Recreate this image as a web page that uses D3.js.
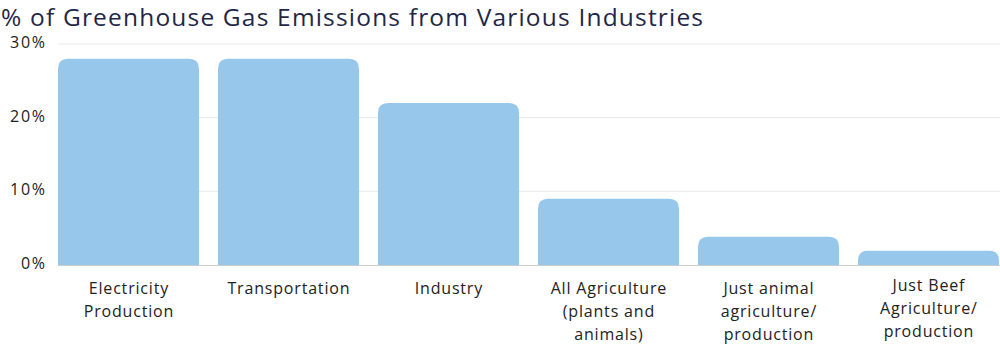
<!DOCTYPE html>
<html>
<head>
<meta charset="utf-8">
<script src="https://cdn.jsdelivr.net/npm/d3@7"></script>
<style>
  html, body { margin: 0; padding: 0; background: #fff; }
  svg { display: block; }
  text { font-family: "Open Sans", "Lato", sans-serif; }
</style>
</head>
<body>
<svg id="chart" width="1000" height="356"></svg>
<script>
const title = "% of Greenhouse Gas Emissions from Various Industries";
const categories = [
  ["Electricity", "Production"],
  ["Transportation"],
  ["Industry"],
  ["All Agriculture", "(plants and", "animals)"],
  ["Just animal", "agriculture/", "production"],
  ["Just Beef", "Agriculture/", "production"]
];
const values = [28, 28, 22, 9, 3.85, 1.95];
const yTicks = [0, 10, 20, 30];

const svg = d3.select("#chart");
const plotTop = 44, plotBottom = 265, plotLeft = 58, plotRight = 1000;

const x = d3.scaleBand()
  .domain(d3.range(categories.length))
  .range([48.5, 1008.5])
  .paddingInner(19 / 160)
  .paddingOuter(19 / 320);

const y = d3.scaleLinear().domain([0, 30]).range([plotBottom, plotTop]);

function fitSpacing(sel, target) {
  const node = sel.node();
  const n = node.getNumberOfChars();
  const w = node.getComputedTextLength();
  return (target - w) / Math.max(1, n - 1);
}

// title
const t = svg.append("text")
  .attr("x", 1).attr("y", 25.5)
  .attr("font-size", 24.5)
  .attr("fill", "#1f2748")
  .text(title);
t.attr("letter-spacing", fitSpacing(t, 702));

// gridlines
svg.append("g").selectAll("line")
  .data(yTicks.filter(d => d > 0))
  .join("line")
  .attr("x1", plotLeft).attr("x2", plotRight)
  .attr("y1", d => y(d)).attr("y2", d => y(d))
  .attr("stroke", "#e8e8e8").attr("stroke-width", 1);

// y tick labels
const yl = svg.append("g").selectAll("text")
  .data(yTicks)
  .join("text")
  .attr("x", 45).attr("y", d => y(d) - 1.5)
  .attr("dy", "0.35em")
  .attr("text-anchor", "end")
  .attr("font-size", 16)
  .attr("fill", "#222")
  .text(d => d + "%");
const yls = fitSpacing(d3.select(yl.nodes()[3]), 35);
yl.attr("letter-spacing", yls).attr("x", 45 + yls);

// bars with rounded top corners
const r = 10;
function barPath(i, v) {
  const x0 = x(i), w = x.bandwidth(), y0 = y(v), yb = y(0);
  const rr = Math.min(r, (yb - y0), w / 2);
  return `M${x0},${yb}V${y0 + rr}Q${x0},${y0} ${x0 + rr},${y0}H${x0 + w - rr}Q${x0 + w},${y0} ${x0 + w},${y0 + rr}V${yb}Z`;
}
svg.append("g").selectAll("path")
  .data(values)
  .join("path")
  .attr("d", (v, i) => barPath(i, v))
  .attr("fill", "#97c7ea");

// baseline
svg.append("line")
  .attr("x1", plotLeft).attr("x2", plotRight)
  .attr("y1", y(0) + 0.5).attr("y2", y(0) + 0.5)
  .attr("stroke", "#cccccc").attr("stroke-width", 1);

// category labels
const lab = svg.append("g").selectAll("text")
  .data(categories)
  .join("text")
  .attr("x", (d, i) => x(i) + x.bandwidth() / 2)
  .attr("y", (d, i) => i === 5 ? 290.5 : 294)
  .attr("text-anchor", "middle")
  .attr("font-size", 16)
  .attr("fill", "#222");
lab.selectAll("tspan")
  .data(d => d)
  .join("tspan")
  .attr("x", function () { return this.parentNode.getAttribute("x"); })
  .attr("dy", (d, j) => j === 0 ? 0 : 23)
  .text(d => d);
const ls = fitSpacing(d3.select(lab.nodes()[1]), 122);
lab.attr("letter-spacing", ls);
lab.selectAll("tspan").attr("dx", ls / 2);
</script>
</body>
</html>
